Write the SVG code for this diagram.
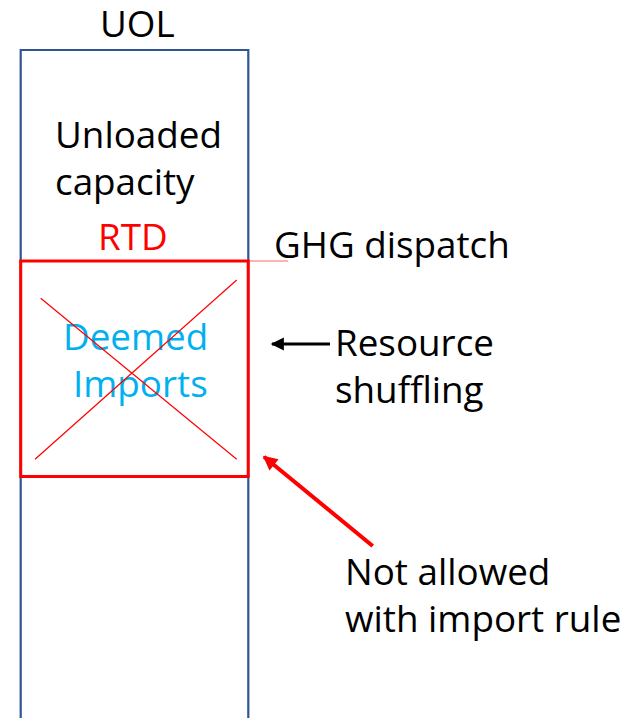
<svg xmlns="http://www.w3.org/2000/svg" width="639" height="718" viewBox="0 0 639 718">
  <style>
    .lbl { font-family: "Open Sans", "Liberation Sans", sans-serif; font-size: 36.8px; fill: #000; }
    .red { fill: #FF0000; }
    .cyan { fill: #00B0F0; }
  </style>
  <defs>
    <marker id="headBlack" viewBox="0 0 10 10" refX="9" refY="5" markerWidth="5" markerHeight="4.4" orient="auto" markerUnits="strokeWidth">
      <path d="M0,0 L10,5 L0,10 Z" fill="#000"/>
    </marker>
    <marker id="headRed" viewBox="0 0 10 10" refX="9" refY="5" markerWidth="4.2" markerHeight="3.6" orient="auto" markerUnits="strokeWidth">
      <path d="M0,0 L10,5 L0,10 Z" fill="#FF0000"/>
    </marker>
  </defs>
  <rect width="639" height="718" fill="#fff"/>

  <!-- UOL column (open at the bottom) -->
  <g id="uol">
    <path d="M20.7,718 V50 H248.3 V718" fill="none" stroke="#2F5597" stroke-width="2.2"/>
    <text class="lbl" x="100" y="37">UOL</text>
    <text class="lbl" x="55" y="148">Unloaded</text>
    <text class="lbl" x="55" y="195">capacity</text>
    <text class="lbl red" x="98" y="250">RTD</text>
  </g>

  <!-- Deemed imports block, crossed out -->
  <g id="deemed-imports">
    <rect x="20.7" y="261" width="227.5" height="215.5" fill="none" stroke="#FF0000" stroke-width="3"/>
    <text class="lbl cyan" x="63" y="350">Deemed</text>
    <text class="lbl cyan" x="73" y="397">Imports</text>
    <line x1="40.7" y1="298.3" x2="236.7" y2="459.3" stroke="#FF0000" stroke-width="1.2"/>
    <line x1="236.7" y1="280" x2="35" y2="459.3" stroke="#FF0000" stroke-width="1.2"/>
  </g>

  <g id="ghg-dispatch">
    <text class="lbl" x="274" y="258">GHG dispatch</text>
  </g>
  <g id="resource-shuffling">
    <text class="lbl" x="335" y="356">Resource</text>
    <text class="lbl" x="335" y="403">shuffling</text>
  </g>
  <g id="not-allowed">
    <text class="lbl" x="345" y="585">Not allowed</text>
    <text class="lbl" x="345" y="632">with import rule</text>
  </g>

  <!-- connectors -->
  <g id="connectors">
    <line x1="248" y1="261" x2="288" y2="261" stroke="#FF0000" stroke-opacity="0.6" stroke-width="1"/>
    <line x1="330" y1="344" x2="272" y2="344" stroke="#000" stroke-width="3" marker-end="url(#headBlack)"/>
    <line x1="372.7" y1="546" x2="264" y2="456.7" stroke="#FF0000" stroke-width="4" marker-end="url(#headRed)"/>
  </g>
</svg>
